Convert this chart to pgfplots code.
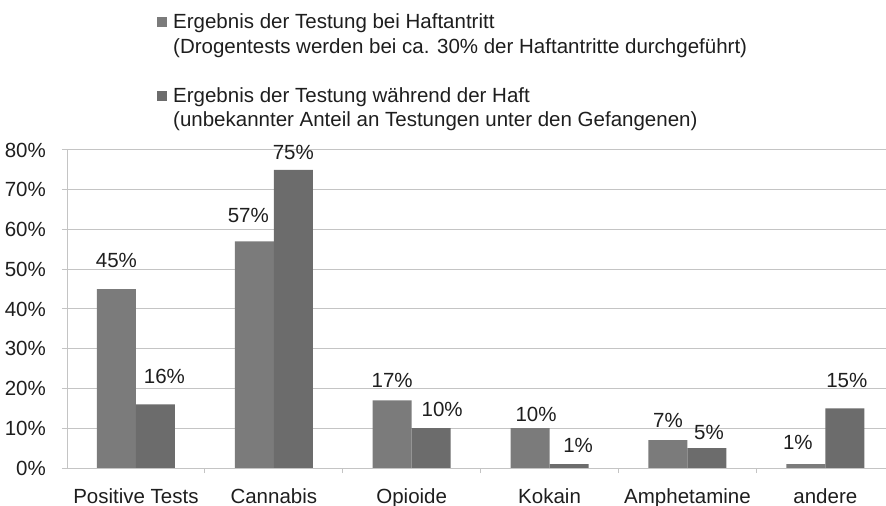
\documentclass[border=0pt]{standalone}
\usepackage{pgfplots}
\usepackage{pgfplotstable}
\pgfplotsset{compat=1.18}
\usepackage{fontspec}
\setmainfont{Liberation Sans}
\definecolor{barA}{HTML}{7B7B7B}
\definecolor{barB}{HTML}{6C6C6C}
\definecolor{txt}{HTML}{1E1E1E}
\definecolor{gridc}{HTML}{C4C4C4}
% x = category index, y = value (%), dx/dy = label offsets (bp)
\pgfplotstableread{
x y dx dy
0 45 0 22
1 57 -6 19
2 17 0 13
3 10 6 7
4 7 0 13
5 1 -8 15
}\haftantritt
\pgfplotstableread{
x y dx dy
0 16 9 21
1 75 0 10
2 10 11 12
3 1 9 12
4 5 2 9
5 15 2 21
}\waehrend
\begin{document}
\fontsize{20.5bp}{24.5bp}\selectfont
\begin{tikzpicture}
\useasboundingbox (0bp,0bp) rectangle (886bp,506bp);
\begin{axis}[
  at={(67bp,38bp)}, anchor=south west,
  scale only axis, width=819bp, height=318bp,
  ymin=0, ymax=80, xmin=-0.5, xmax=5.44,
  ybar=0pt, bar width=39bp,
  axis x line*=bottom, axis y line*=left,
  axis line style={gridc, line width=1bp},
  ytick={0,10,...,80},
  yticklabel={\pgfmathprintnumber{\tick}\%},
  /pgf/number format/assume math mode=true,
  yticklabel style={anchor=east, inner sep=0pt, xshift=-16bp, text=txt},
  ymajorgrids, major grid style={gridc, line width=1bp},
  tick align=outside,
  major tick length=5bp, minor tick length=5bp,
  xtick={0,...,5},
  xticklabels={Positive Tests,Cannabis,Opioide,Kokain,Amphetamine,andere},
  xticklabel style={anchor=base, inner sep=0pt, yshift=-30bp, text=txt},
  major x tick style={draw=none},
  minor xtick={0.5,1.5,...,4.5},
  minor tick style={gridc, line width=1bp},
  major y tick style={gridc, line width=1bp},
  visualization depends on={\thisrow{dx} \as \labeldx},
  visualization depends on={\thisrow{dy} \as \labeldy},
  nodes near coords={\pgfmathprintnumber{\pgfplotspointmeta}\%},
  nodes near coords style={anchor=base, inner sep=0pt, text=txt,
    xshift=\labeldx*1bp, yshift=\labeldy*1bp},
]
\addplot[fill=barA, draw=none] table[x=x, y=y] {\haftantritt};
\addplot[fill=barB, draw=none] table[x=x, y=y] {\waehrend};
\end{axis}
\fill[barA] (157bp,479bp) rectangle (167bp,489bp);
\node[anchor=base west, inner sep=0pt, text=txt] at (173bp,477bp) {Ergebnis der Testung bei Haftantritt};
\node[anchor=base west, inner sep=0pt, text=txt] at (173bp,452bp) {(Drogentests werden bei ca. 30\% der Haftantritte durchgeführt)};
\fill[barB] (157bp,405bp) rectangle (167bp,415bp);
\node[anchor=base west, inner sep=0pt, text=txt] at (173bp,403bp) {Ergebnis der Testung während der Haft};
\node[anchor=base west, inner sep=0pt, text=txt] at (173bp,379bp) {(unbekannter Anteil an Testungen unter den Gefangenen)};
\end{tikzpicture}
\end{document}
